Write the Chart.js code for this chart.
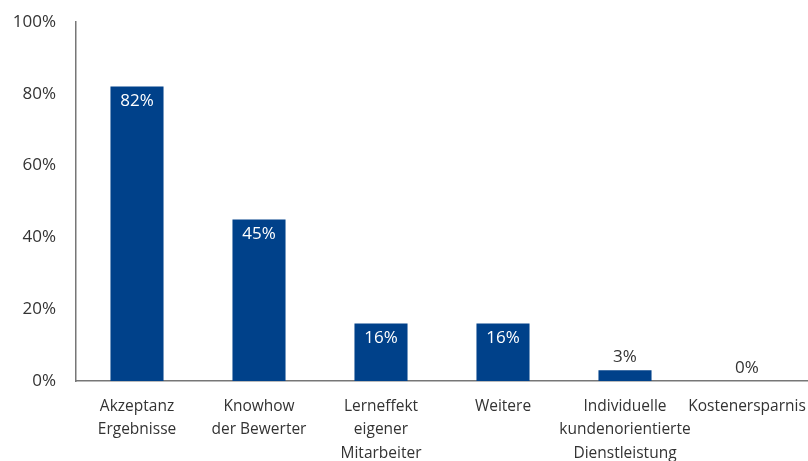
<!DOCTYPE html>
<html><head><meta charset="utf-8">
<script src="https://cdn.jsdelivr.net/npm/chart.js@4"></script>
<style>html,body{margin:0;padding:0;background:#fff}#wrap{width:808px;height:461px}</style>
</head><body><div id="wrap"><canvas id="c"></canvas></div>
<script>
const categories = [
  ["Akzeptanz","Ergebnisse"],
  ["Knowhow","der Bewerter"],
  ["Lerneffekt","eigener","Mitarbeiter"],
  ["Weitere"],
  ["Individuelle","kundenorientierte","Dienstleistung"],
  ["Kostenersparnis"]
];
const values = [82, 45, 16, 16, 3, 0];
const yTicks = [0, 20, 40, 60, 80, 100];

const FONT = "'Open Sans', 'Noto Sans', sans-serif";
const barColor = "#00418a";

const labelPlugin = {
  id: 'valLabels',
  afterDatasetsDraw(chart) {
    const ctx = chart.ctx;
    const meta = chart.getDatasetMeta(0);
    ctx.save();
    ctx.font = "17px " + FONT;
    ctx.textAlign = 'center';
    ctx.textBaseline = 'middle';
    meta.data.forEach((bar, i) => {
      const v = values[i];
      const txt = v + '%';
      if (v >= 10) {
        ctx.fillStyle = '#ffffff';
        ctx.fillText(txt, bar.x, bar.y + 15);
      } else {
        ctx.fillStyle = '#333333';
        ctx.fillText(txt, bar.x, bar.y - 13);
      }
    });
    ctx.restore();
  }
};

new Chart(document.getElementById('c'), {
  type: 'bar',
  data: {
    labels: categories,
    datasets: [{
      data: values,
      backgroundColor: barColor,
      borderWidth: 0,
      categoryPercentage: 1,
      barPercentage: 0.435
    }]
  },
  options: {
    responsive: true,
    maintainAspectRatio: false,
    animation: false,
    layout: { padding: { top: 0, right: 0, bottom: 0, left: 0 } },
    plugins: { legend: { display: false }, tooltip: { enabled: false } },
    scales: {
      y: {
        min: 0, max: 100,
        afterBuildTicks(s) { s.ticks = yTicks.map(v => ({ value: v })); },
        afterFit(s) { s.width = 76; s.paddingTop = 22; s.paddingBottom = 0; },
        grid: { display: false, drawTicks: false },
        border: { display: true, color: '#777777', width: 1.5 },
        ticks: {
          padding: 20,
          color: '#333333',
          font: { family: FONT, size: 17 },
          callback: v => v + '%'
        }
      },
      x: {
        afterFit(s) { s.height = 80; s.paddingLeft = 0; s.paddingRight = 0; },
        grid: { display: false, drawTicks: false },
        border: { display: true, color: '#777777', width: 1.5 },
        ticks: {
          padding: 14,
          color: '#333333',
          maxRotation: 0,
          autoSkip: false,
          font: { family: FONT, size: 15.5, lineHeight: 1.5 }
        }
      }
    }
  },
  plugins: [labelPlugin]
});
</script>
</body></html>
